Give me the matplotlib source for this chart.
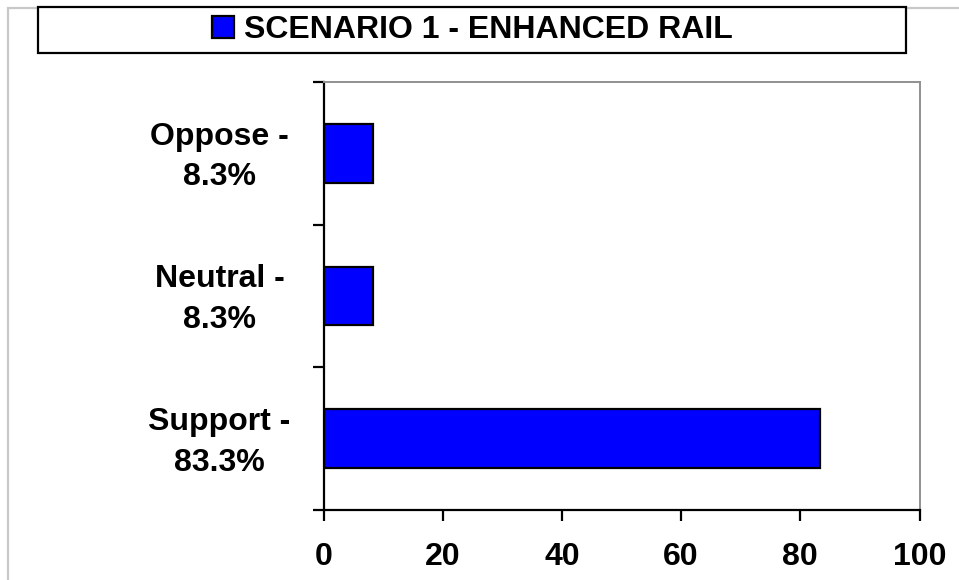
import matplotlib
matplotlib.use("Agg")
import matplotlib.pyplot as plt
from matplotlib.patches import Rectangle
from matplotlib.transforms import ScaledTranslation

plt.rcParams["font.family"] = ["Liberation Sans", "DejaVu Sans"]
plt.rcParams["font.weight"] = "bold"

# data (bottom to top)
categories = ["Support -\n83.3%", "Neutral -\n8.3%", "Oppose -\n8.3%"]
values = [83.3, 8.3, 8.3]
series_name = "SCENARIO 1 - ENHANCED RAIL"
x_ticks = [0, 20, 40, 60, 80, 100]

W, H = 959, 580
fig = plt.figure(figsize=(W / 100, H / 100), dpi=100)
fig.patch.set_facecolor("white")

# outer light-gray frame (cut by canvas on right/bottom)
fig.patches.append(Rectangle((8 / W, -0.1), 1.2, 1.1 - 8 / H,
                             transform=fig.transFigure, fill=False,
                             edgecolor="#c8c8c8", linewidth=1.6))

ax = fig.add_axes([323.7 / W, 1 - 510 / H, (919.5 - 323.7) / W, (510 - 82) / H])

y = list(range(len(categories)))
bars = ax.barh(y, values, height=0.41, color="#0000ff", edgecolor="black",
               linewidth=1.6, label=series_name)

ax.set_xlim(0, 100)
ax.set_ylim(-0.5, len(categories) - 0.5)
ax.set_xticks(x_ticks)
ax.set_xticklabels([str(t) for t in x_ticks], fontsize=23, fontweight="bold")
ax.tick_params(axis="x", direction="out", length=8, width=1.6, pad=15)

# boundary ticks (major) without labels, category labels on minor ticks
ax.set_yticks([i - 0.5 for i in range(len(categories) + 1)])
ax.set_yticklabels([])
ax.tick_params(axis="y", which="major", direction="out", length=8, width=1.6)
ax.set_yticks(y, minor=True)
ax.set_yticklabels(categories, minor=True, fontsize=23, fontweight="bold",
                   ha="center", linespacing=1.45)
ax.tick_params(axis="y", which="minor", length=0, pad=75)
# nudge the two-line labels up a little so the block centres on the bar
for lbl in ax.get_yticklabels(minor=True):
    lbl.set_transform(lbl.get_transform() + ScaledTranslation(0, 5 / 100, fig.dpi_scale_trans))

for s in ("left", "bottom"):
    ax.spines[s].set_color("black")
    ax.spines[s].set_linewidth(1.6)
for s in ("top", "right"):
    ax.spines[s].set_color("#909090")
    ax.spines[s].set_linewidth(1.4)

# legend box across the top
fig.patches.append(Rectangle((38 / W, 1 - 53 / H), (906 - 38) / W, 46 / H,
                             transform=fig.transFigure, facecolor="white",
                             edgecolor="black", linewidth=1.6, zorder=2))
leg = fig.legend(handles=[bars], labels=[series_name], loc="center",
                 bbox_to_anchor=((38 + 906) / 2 / W, 1 - 30 / H),
                 frameon=False, prop={"size": 23, "weight": "bold"},
                 handlelength=0.7, handleheight=0.7, handletextpad=0.3,
                 borderpad=0)
leg.set_zorder(3)

fig.savefig("out.png", dpi=100)
